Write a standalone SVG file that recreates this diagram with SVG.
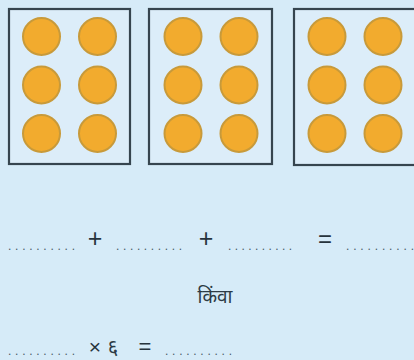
<svg xmlns="http://www.w3.org/2000/svg" width="414" height="360" viewBox="0 0 414 360">
<style>
.box{fill:#dcedf9;stroke:#36454f;stroke-width:2.2}
.c{fill:#f2ab2e;stroke:#c89a3a;stroke-width:2}
.t{font-family:"Liberation Sans","Noto Sans",sans-serif;fill:#26333c}
.d{font-family:"Liberation Sans",sans-serif;font-size:12px;fill:#4a5a66}
.h{font-family:"Noto Sans","Noto Sans Devanagari",sans-serif;fill:#2d3b45}
</style>
<defs>
<g id="six">
<circle class="c" cx="0" cy="0" r="18.5"/>
<circle class="c" cx="56" cy="0" r="18.5"/>
<circle class="c" cx="0" cy="48.5" r="18.5"/>
<circle class="c" cx="56" cy="48.5" r="18.5"/>
<circle class="c" cx="0" cy="97" r="18.5"/>
<circle class="c" cx="56" cy="97" r="18.5"/>
</g>
</defs>
<rect width="414" height="360" fill="#d6ebf8"/>
<g id="box1">
<rect class="box" x="9" y="9" width="121" height="155"/>
<use href="#six" x="41.5" y="36.5"/>
</g>
<g id="box2">
<rect class="box" x="149" y="9" width="123" height="155"/>
<use href="#six" x="183" y="36.5"/>
</g>
<g id="box3">
<rect class="box" x="294" y="9" width="130" height="156"/>
<use href="#six" x="327" y="36.5"/>
</g>
<g id="equation1">
<text class="d" x="8" y="250" textLength="67" lengthAdjust="spacing">..........</text>
<text class="t" x="95" y="247" font-size="25" text-anchor="middle">+</text>
<text class="d" x="116" y="250" textLength="66" lengthAdjust="spacing">..........</text>
<text class="t" x="206" y="247" font-size="25" text-anchor="middle">+</text>
<text class="d" x="228" y="250" textLength="64" lengthAdjust="spacing">..........</text>
<text class="t" x="325" y="247" font-size="24" text-anchor="middle">=</text>
<text class="d" x="346" y="250" textLength="68" lengthAdjust="spacing">..........</text>
</g>
<g id="or">
<text class="h" x="215" y="303" font-size="19" text-anchor="middle">किंवा</text>
</g>
<g id="equation2">
<text class="d" x="8" y="355" textLength="67" lengthAdjust="spacing">..........</text>
<text class="t" x="95" y="354" font-size="21" text-anchor="middle">×</text>
<text class="h" x="113" y="354" font-size="20" text-anchor="middle">६</text>
<text class="t" x="145" y="354" font-size="22" text-anchor="middle">=</text>
<text class="d" x="165" y="355" textLength="67" lengthAdjust="spacing">..........</text>
</g>
</svg>
